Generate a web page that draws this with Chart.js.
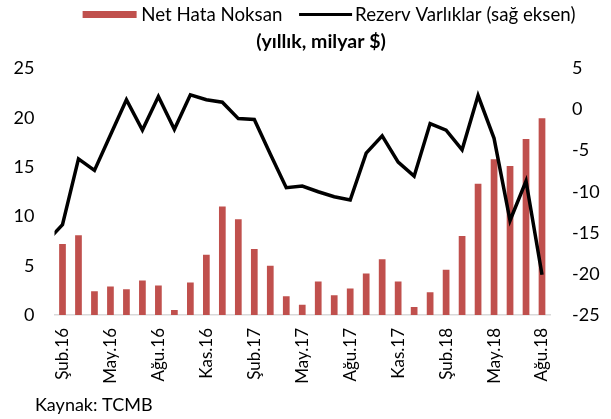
<!DOCTYPE html>
<html>
<head>
<meta charset="utf-8">
<script src="https://cdn.jsdelivr.net/npm/chart.js@4.4.0/dist/chart.umd.min.js"></script>
<style>
    html, body { margin: 0; padding: 0; background: #fff; }
    #wrap { width: 611px; height: 419px; }
</style>
</head>
<body>
<div id="wrap"><canvas id="chart"></canvas></div>
<script>
// Monthly data, Oca.16 only feeds the clipped start of the line
const categories = [
    'Oca.16', 'Şub.16', 'Mar.16', 'Nis.16', 'May.16', 'Haz.16', 'Tem.16', 'Ağu.16', 'Eyl.16', 'Eki.16', 'Kas.16', 'Ara.16',
    'Oca.17', 'Şub.17', 'Mar.17', 'Nis.17', 'May.17', 'Haz.17', 'Tem.17', 'Ağu.17', 'Eyl.17', 'Eki.17', 'Kas.17', 'Ara.17',
    'Oca.18', 'Şub.18', 'Mar.18', 'Nis.18', 'May.18', 'Haz.18', 'Tem.18', 'Ağu.18'
];
const netHataNoksan = [
    null, 7.2, 8.1, 2.4, 2.9, 2.6, 3.5, 3.0, 0.5, 3.3, 6.1, 11.0,
    9.7, 6.7, 5.0, 1.9, 1.05, 3.4, 2.0, 2.7, 4.2, 5.65, 3.4, 0.8,
    2.3, 4.6, 8.0, 13.3, 15.8, 15.1, 17.85, 19.95
];
const rezervVarliklar = [
    -16.1, -14.0, -6.0, -7.4, -3.1, 1.2, -2.5, 1.6, -2.4, 1.8, 1.2, 0.9,
    -1.1, -1.2, -5.4, -9.5, -9.3, -10.0, -10.6, -11.0, -5.3, -3.2, -6.4, -8.1,
    -1.7, -2.5, -4.9, 1.7, -3.5, -13.5, -8.7, -20.1
];
const leftTicks = [0, 5, 10, 15, 20, 25];
const rightTicks = [-25, -20, -15, -10, -5, 0, 5];

const FONT = 'Lato';
const barColor = '#C0504D';
const textColor = '#000';
const chartTitle = '(yıllık, milyar $)';
const sourceNote = 'Kaynak: TCMB';

// legend, title and source note drawn by hand
const annotations = {
    id: 'annotations',
    afterDraw(chart) {
        const ctx = chart.ctx;
        const sets = chart.data.datasets;
        ctx.save();
        ctx.textBaseline = 'middle';

        // legend: wide flat red swatch, thick black line swatch
        ctx.font = '18.7px ' + FONT;
        const w1 = ctx.measureText(sets[0].label).width;
        const w2 = ctx.measureText(sets[1].label).width;
        const total = 54 + 4.7 + w1 + 16.7 + 53 + 3 + w2;
        let x = 329 - total / 2;
        const y = 14.5;

        ctx.fillStyle = barColor;
        ctx.fillRect(x, y - 3.5, 54, 7);
        x += 54 + 4.7;
        ctx.fillStyle = textColor;
        ctx.fillText(sets[0].label, x, y);
        x += w1 + 16.7;

        ctx.strokeStyle = '#000';
        ctx.lineWidth = 3;
        ctx.beginPath();
        ctx.moveTo(x, y);
        ctx.lineTo(x + 53, y);
        ctx.stroke();
        x += 53 + 3;
        ctx.fillText(sets[1].label, x, y);

        // title
        ctx.font = 'bold 19.5px ' + FONT;
        ctx.textAlign = 'center';
        ctx.fillText(chartTitle, 321, 42);

        // source
        ctx.font = '18px ' + FONT;
        ctx.textAlign = 'left';
        ctx.fillText(sourceNote, 35, 405);
        ctx.restore();
    }
};

const ctx = document.getElementById('chart').getContext('2d');

new Chart(ctx, {
    type: 'bar',
    data: {
        labels: categories,
        datasets: [
            {
                label: 'Net Hata Noksan',
                data: netHataNoksan,
                backgroundColor: barColor,
                borderWidth: 0,
                categoryPercentage: 1,
                barPercentage: 0.42,
                yAxisID: 'y',
                order: 1
            },
            {
                type: 'line',
                label: 'Rezerv Varlıklar (sağ eksen)',
                data: rezervVarliklar,
                borderColor: '#000',
                backgroundColor: '#000',
                borderWidth: 3.5,
                pointRadius: 0,
                tension: 0,
                fill: false,
                yAxisID: 'y1',
                order: 0
            }
        ]
    },
    options: {
        responsive: true,
        maintainAspectRatio: false,
        animation: false,
        devicePixelRatio: 1,
        layout: {
            padding: { left: 0, right: 0, top: 68.5, bottom: 24 }
        },
        plugins: {
            legend: { display: false },
            tooltip: { enabled: false },
            title: { display: false }
        },
        scales: {
            x: {
                offset: true,
                min: categories[1],
                grid: { display: false, drawTicks: false },
                border: { display: true, color: '#D9D9D9', width: 1.5 },
                ticks: {
                    autoSkip: false,
                    maxRotation: 90,
                    minRotation: 90,
                    padding: 13,
                    color: textColor,
                    font: { family: FONT, size: 17 },
                    callback: function(value) {
                        return (value - 1) % 3 === 0 ? this.getLabelForValue(value) : '';
                    }
                },
                afterFit: function(scale) { scale.height = 80; }
            },
            y: {
                position: 'left',
                min: leftTicks[0],
                max: leftTicks[leftTicks.length - 1],
                grid: { display: false, drawTicks: false },
                border: { display: false },
                ticks: {
                    stepSize: leftTicks[1] - leftTicks[0],
                    padding: 20,
                    color: textColor,
                    font: { family: FONT, size: 18 }
                },
                afterFit: function(scale) { scale.width = 54.5; }
            },
            y1: {
                position: 'right',
                min: rightTicks[0],
                max: rightTicks[rightTicks.length - 1],
                grid: { display: false, drawTicks: false },
                border: { display: false },
                ticks: {
                    stepSize: rightTicks[1] - rightTicks[0],
                    padding: 22,
                    color: textColor,
                    font: { family: FONT, size: 18 }
                },
                afterFit: function(scale) { scale.width = 61; }
            }
        }
    },
    plugins: [annotations]
});
</script>
</body>
</html>
